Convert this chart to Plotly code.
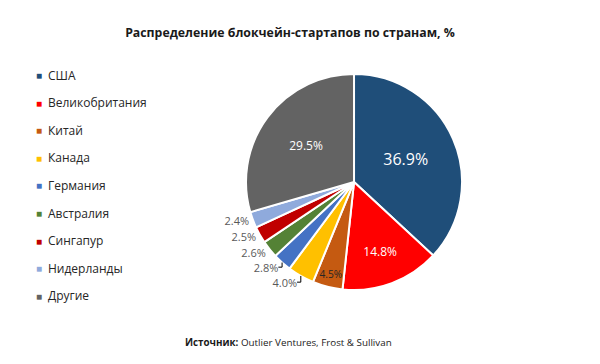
import plotly.graph_objects as go

categories = ["США", "Великобритания", "Китай", "Канада", "Германия",
              "Австралия", "Сингапур", "Нидерланды", "Другие"]
values = [36.9, 14.8, 4.5, 4.0, 2.8, 2.6, 2.5, 2.4, 29.5]
colors = ["#1F4E79", "#FF0000", "#C55A11", "#FFC000", "#4472C4",
          "#548235", "#C00000", "#8FAADC", "#636363"]
label_pos = ["inside", "inside", "inside", "outside", "outside",
             "outside", "outside", "outside", "inside"]
label_color = ["white", "white", "#262626", "#595959", "#595959",
               "#595959", "#595959", "#595959", "white"]
label_size = [16, 12, 11, 11, 11, 11, 11, 11, 12]

FONT = "Open Sans, Noto Sans, sans-serif"
W, H = 600, 364
OFF = 8  # page body margin

fig = go.Figure()
fig.add_trace(go.Pie(
    labels=categories, values=values, sort=False, direction="clockwise",
    rotation=0,
    marker=dict(colors=colors, line=dict(color="white", width=2)),
    texttemplate="%{value:.1f}%", textposition=label_pos,
    textfont=dict(color=label_color, size=label_size, family=FONT),
    insidetextorientation="horizontal",
    showlegend=False, hoverinfo="label+value",
    domain=dict(x=[0.3967, 0.7567], y=[0.2253, 0.8187]),
))

# legend drawn as text: colored square + label
annotations = []
top_px, step_px = 75 - OFF, 27.6
for i, (name, col) in enumerate(zip(categories, colors)):
    yc = 1 - (top_px + i * step_px) / H
    annotations.append(dict(
        text="■", x=(39 - OFF) / W, y=yc, xref="paper", yref="paper",
        showarrow=False, xanchor="center", yanchor="middle",
        font=dict(size=10, color=col, family=FONT)))
    annotations.append(dict(
        text=name, x=(46 - OFF) / W, y=yc, xref="paper", yref="paper",
        showarrow=False, xanchor="left", yanchor="middle",
        font=dict(size=12, color="#262626", family=FONT)))

annotations.append(dict(
    text="<b>Источник:</b> Outlier Ventures, Frost & Sullivan",
    x=(288 - OFF) / W, y=1 - (342 - OFF) / H, xref="paper", yref="paper",
    showarrow=False, xanchor="center", yanchor="middle",
    font=dict(size=9.8, color="#1a1a1a", family=FONT)))

fig.update_layout(
    width=W, height=H,
    margin=dict(l=0, r=0, t=0, b=0),
    paper_bgcolor="white", plot_bgcolor="white",
    font=dict(family=FONT, color="#262626"),
    showlegend=False,
    title=dict(text="<b>Распределение блокчейн-стартапов по странам, %</b>",
               x=(290 - OFF) / W, xanchor="center", y=1 - (33 - OFF) / H,
               yanchor="middle",
               font=dict(size=12.3, color="#1a1a1a", family=FONT)),
    annotations=annotations,
)

fig.write_html("out.html")
